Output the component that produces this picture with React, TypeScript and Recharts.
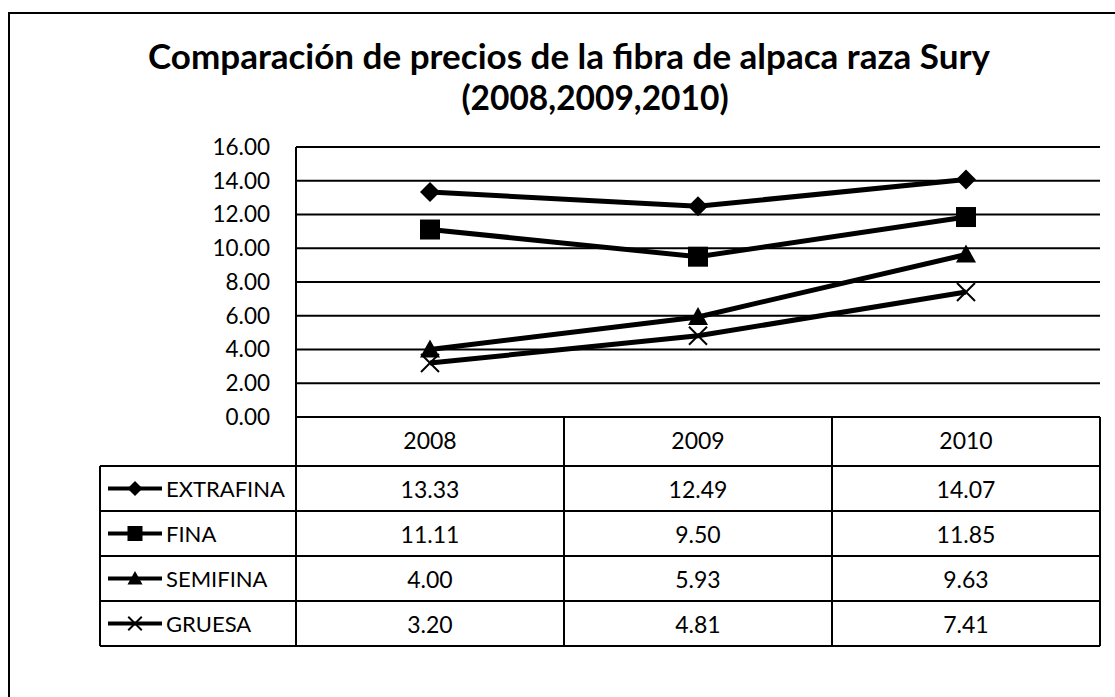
import React from "react";
import { LineChart, Line, XAxis, YAxis, CartesianGrid } from "recharts";

const categories = ["2008", "2009", "2010"];
const extrafina = [13.33, 12.49, 14.07];
const fina = [11.11, 9.5, 11.85];
const semifina = [4.0, 5.93, 9.63];
const gruesa = [3.2, 4.81, 7.41];
const yTicks = [0, 2, 4, 6, 8, 10, 12, 14, 16];

const seriesDefs = [
  { key: "EXTRAFINA", values: extrafina, shape: "diamond" },
  { key: "FINA", values: fina, shape: "square" },
  { key: "SEMIFINA", values: semifina, shape: "triangle" },
  { key: "GRUESA", values: gruesa, shape: "x" },
];

const data = categories.map((c, i) => {
  const row: any = { year: c };
  seriesDefs.forEach((s) => (row[s.key] = s.values[i]));
  return row;
});

const W = 1115;
const H = 697;
const PLOT_LEFT = 296;
const PLOT_RIGHT = 1100;
const PLOT_TOP = 147;
const PLOT_BOTTOM = 417;
const HEADER_BOTTOM = 466;
const ROW_H = 45;
const LEG_LEFT = 100;
const XAXIS_H = 50;
const FONT = "Lato, 'Open Sans', sans-serif";

function Marker({ shape, cx, cy, s }: { shape: string; cx: number; cy: number; s: number }) {
  if (shape === "diamond") {
    return (
      <polygon
        points={`${cx},${cy - 10 * s} ${cx + 10 * s},${cy} ${cx},${cy + 10 * s} ${cx - 10 * s},${cy}`}
        fill="#000"
      />
    );
  }
  if (shape === "square") {
    return <rect x={cx - 10 * s} y={cy - 10 * s} width={20 * s} height={20 * s} fill="#000" />;
  }
  if (shape === "triangle") {
    return (
      <polygon
        points={`${cx},${cy - 10 * s} ${cx + 10 * s},${cy + 8 * s} ${cx - 10 * s},${cy + 8 * s}`}
        fill="#000"
      />
    );
  }
  return (
    <g stroke="#000" strokeWidth={2}>
      <line x1={cx - 9 * s} y1={cy - 9 * s} x2={cx + 9 * s} y2={cy + 9 * s} />
      <line x1={cx - 9 * s} y1={cy + 9 * s} x2={cx + 9 * s} y2={cy - 9 * s} />
    </g>
  );
}

const makeDot = (shape: string) => (props: any) => {
  const { cx, cy, index } = props;
  if (cx == null || cy == null) return <g key={index} />;
  return (
    <g key={`${shape}-${index}`}>
      <Marker shape={shape} cx={cx} cy={cy} s={1} />
    </g>
  );
};

export default function App() {
  const colW = (PLOT_RIGHT - PLOT_LEFT) / categories.length;
  const tableBottom = HEADER_BOTTOM + ROW_H * seriesDefs.length;
  return (
    <div style={{ position: "absolute", left: 0, top: 0, width: W, height: H, background: "#fff", fontFamily: FONT }}>
      <LineChart
        width={W}
        height={H}
        data={data}
        margin={{ top: PLOT_TOP, right: W - PLOT_RIGHT, bottom: H - PLOT_BOTTOM - XAXIS_H, left: 0 }}
      >
        <CartesianGrid vertical={false} stroke="#000" strokeWidth={2} />
        <XAxis
          dataKey="year"
          height={XAXIS_H}
          axisLine={false}
          tickLine={false}
          tickSize={0}
          tickMargin={16}
          padding={{ left: colW / 2, right: colW / 2 }}
          tick={{ fill: "#000", fontSize: 23, fontFamily: FONT }}
        />
        <YAxis
          width={PLOT_LEFT}
          domain={[0, 16]}
          ticks={yTicks}
          tickFormatter={(v: number) => v.toFixed(2)}
          axisLine={{ stroke: "#000", strokeWidth: 2 }}
          tickLine={false}
          tickSize={0}
          tickMargin={26}
          tick={{ fill: "#000", fontSize: 22.5, fontFamily: FONT }}
        />
        {seriesDefs.map((s) => (
          <Line
            key={s.key}
            dataKey={s.key}
            stroke="#000"
            strokeWidth={5}
            dot={makeDot(s.shape)}
            activeDot={false}
            isAnimationActive={false}
          />
        ))}
      </LineChart>
      <svg
        width={W}
        height={H}
        style={{ position: "absolute", left: 0, top: 0, pointerEvents: "none" }}
      >
        <rect x={9} y={13} width={W + 20} height={H + 20} fill="none" stroke="#000" strokeWidth={2} />
        <text x={569} y={69} textAnchor="middle" fontFamily={FONT} fontWeight={700} fontSize={35} fill="#000">
          Comparación de precios de la fibra de alpaca raza Sury
        </text>
        <text x={595} y={110} textAnchor="middle" fontFamily={FONT} fontWeight={700} fontSize={33.5} fill="#000">
          (2008,2009,2010)
        </text>
        <g stroke="#000" strokeWidth={2}>
          <line x1={PLOT_LEFT} y1={PLOT_BOTTOM} x2={PLOT_LEFT} y2={tableBottom} />
          {categories.map((c, i) => (
            <line
              key={c}
              x1={PLOT_LEFT + colW * (i + 1)}
              y1={PLOT_BOTTOM}
              x2={PLOT_LEFT + colW * (i + 1)}
              y2={tableBottom}
            />
          ))}
          <line x1={LEG_LEFT} y1={HEADER_BOTTOM} x2={LEG_LEFT} y2={tableBottom} />
          {seriesDefs.map((s, i) => (
            <line key={s.key} x1={LEG_LEFT} y1={HEADER_BOTTOM + ROW_H * i} x2={PLOT_RIGHT} y2={HEADER_BOTTOM + ROW_H * i} />
          ))}
          <line x1={LEG_LEFT} y1={tableBottom} x2={PLOT_RIGHT} y2={tableBottom} />
        </g>
        {seriesDefs.map((s, i) => {
          const cy = HEADER_BOTTOM + ROW_H * i + ROW_H / 2;
          return (
            <g key={s.key}>
              <line x1={108} y1={cy} x2={162} y2={cy} stroke="#000" strokeWidth={4} />
              <Marker shape={s.shape} cx={135} cy={cy} s={0.75} />
              <text x={166} y={cy} dominantBaseline="central" fontFamily={FONT} fontSize={22} fill="#000">
                {s.key}
              </text>
              {s.values.map((v, j) => (
                <text
                  key={j}
                  x={PLOT_LEFT + colW * j + colW / 2}
                  y={cy}
                  textAnchor="middle"
                  dominantBaseline="central"
                  fontFamily={FONT}
                  fontSize={23}
                  fill="#000"
                >
                  {v.toFixed(2)}
                </text>
              ))}
            </g>
          );
        })}
      </svg>
    </div>
  );
}
